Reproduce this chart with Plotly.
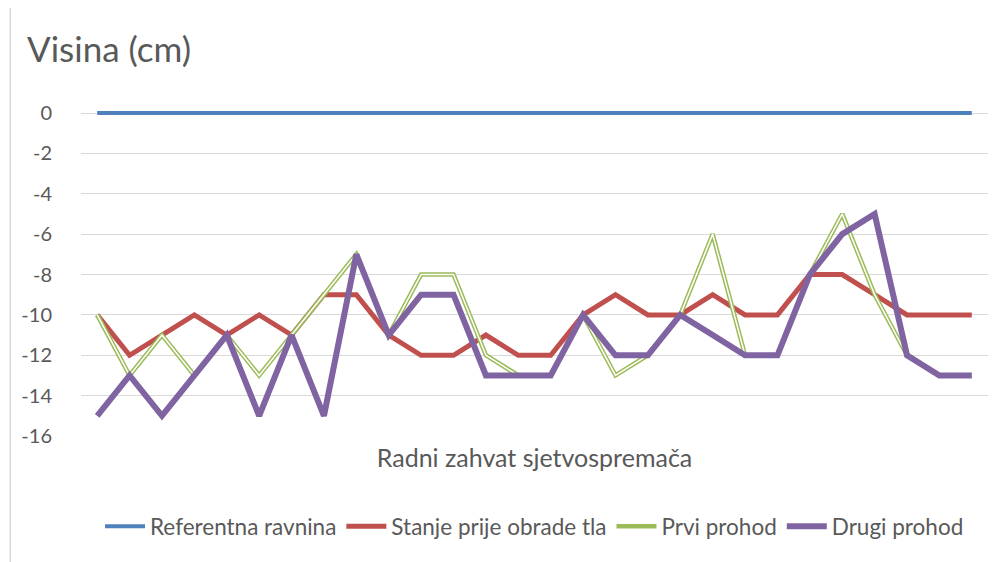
import plotly.graph_objects as go

categories = list(range(1, 29))
referentna = [0] * 28
stanje = [-10, -12, -11, -10, -11, -10, -11, -9, -9, -11, -12, -12, -11, -12,
          -12, -10, -9, -10, -10, -9, -10, -10, -8, -8, -9, -10, -10, -10]
prvi = [-10, -13, -11, -13, -11, -13, -11, -9, -7, -11, -8, -8, -12, -13,
        -13, -10, -13, -12, -10, -6, -12, -12, -8, -5, -9, -12, -13, -13]
drugi = [-15, -13, -15, -13, -11, -15, -11, -15, -7, -11, -9, -9, -13, -13,
         -13, -10, -12, -12, -10, -11, -12, -12, -8, -6, -5, -12, -13, -13]
y_ticks = [0, -2, -4, -6, -8, -10, -12, -14, -16]

FONT = "Lato"
TXT = "#595959"

fig = go.Figure()
fig.add_trace(go.Scatter(x=categories, y=referentna, mode="lines", name="Referentna ravnina",
                         line=dict(color="#4F81BD", width=4)))
fig.add_trace(go.Scatter(x=categories, y=stanje, mode="lines", name="Stanje prije obrade tla",
                         line=dict(color="#C0504D", width=5)))
fig.add_trace(go.Scatter(x=categories, y=prvi, mode="lines", name="Prvi prohod",
                         line=dict(color="#9BBB59", width=4.5)))
fig.add_trace(go.Scatter(x=categories, y=prvi, mode="lines", name="Prvi prohod (inner)",
                         showlegend=False, hoverinfo="skip",
                         line=dict(color="white", width=1.5)))
fig.add_trace(go.Scatter(x=categories, y=drugi, mode="lines", name="Drugi prohod",
                         line=dict(color="#8064A2", width=6)))

fig.update_layout(
    width=995, height=554,
    margin=dict(l=73, r=15, t=102, b=126, autoexpand=False),
    paper_bgcolor="white", plot_bgcolor="white",
    font=dict(family=FONT, color=TXT, size=20),
    title=dict(text="Visina (cm)", x=0, xref="container", xanchor="left",
               y=1, yref="container", yanchor="top", pad=dict(t=29, l=19),
               font=dict(family=FONT, size=35, color=TXT)),
    xaxis=dict(type="category", range=[-0.5, 27.5], showticklabels=False,
               showgrid=False, zeroline=False, showline=False, automargin=False,
               title=dict(text="Radni zahvat sjetvospremača", standoff=13,
                          font=dict(family=FONT, size=25, color=TXT))),
    yaxis=dict(range=[-16, 0.15], tickvals=y_ticks, ticktext=[str(v) for v in y_ticks],
               showgrid=True, gridcolor="#D9D9D9", gridwidth=1, zeroline=False,
               showline=False, ticks="", ticklabelstandoff=28, automargin=False,
               tickfont=dict(family=FONT, size=20, color=TXT)),
    legend=dict(orientation="h", x=0.5, xanchor="center", y=-0.212, yanchor="top",
                font=dict(family=FONT, size=22.5, color=TXT), traceorder="normal",
                itemwidth=40),
    showlegend=True,
)
fig.add_shape(type="line", xref="paper", yref="paper", x0=-0.078, x1=-0.078, y0=-1, y1=2,
              line=dict(color="#D9D9D9", width=1.5))

fig.write_html("out.html")
